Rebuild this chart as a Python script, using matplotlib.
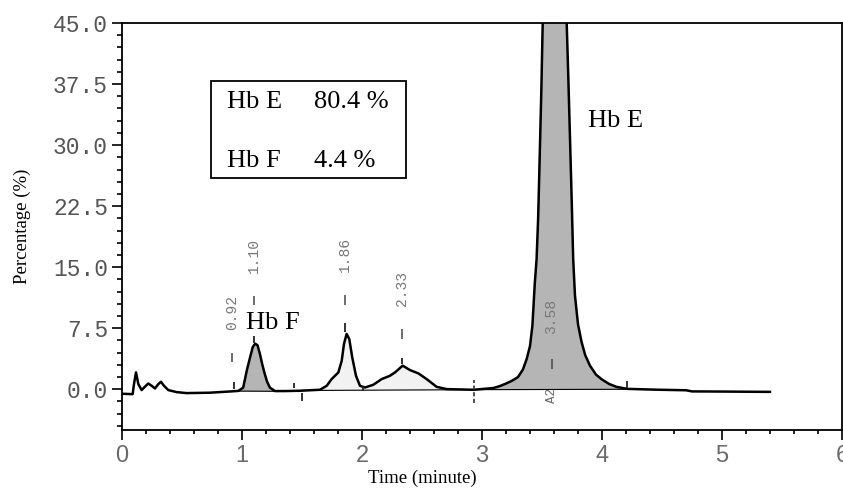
import numpy as np
import matplotlib
matplotlib.use('Agg')
import matplotlib.pyplot as plt
from matplotlib.ticker import MultipleLocator, FormatStrFormatter
from matplotlib.patches import Rectangle

# --- chromatogram trace (time in min, signal in %) ---
TIME = [0.0, 0.089, 0.10, 0.117, 0.136, 0.164, 0.19, 0.219, 0.247, 0.275,
        0.303, 0.325, 0.35, 0.386, 0.456, 0.539, 0.733, 0.90, 0.97, 1.01,
        1.04, 1.067, 1.09, 1.11, 1.13, 1.15, 1.17, 1.19, 1.21, 1.233,
        1.275, 1.35, 1.483, 1.65, 1.706, 1.747, 1.803, 1.831, 1.85, 1.872,
        1.894, 1.919, 1.95, 1.983, 2.025, 2.094, 2.164, 2.233, 2.275, 2.339,
        2.40, 2.47, 2.539, 2.622, 2.706, 2.93, 3.094, 3.15, 3.20, 3.25,
        3.30, 3.34, 3.372, 3.40, 3.42, 3.44, 3.455, 3.468, 3.48, 3.495,
        3.506, 3.53, 3.56, 3.60, 3.64, 3.67, 3.706, 3.72, 3.735, 3.748,
        3.76, 3.775, 3.80, 3.83, 3.86, 3.90, 3.95, 4.00, 4.06, 4.12,
        4.21, 4.45, 4.70, 4.75, 5.0, 5.4]
SIGNAL = [-0.55, -0.6, 0.64, 2.07, 0.64, -0.1, 0.3, 0.71, 0.43, 0.1,
          0.64, 0.92, 0.43, -0.1, -0.35, -0.47, -0.42, -0.27, -0.2, 0.2,
          2.3, 3.9, 5.2, 5.6, 5.4, 4.3, 3.0, 1.87, 0.9, 0.2,
          -0.22, -0.22, -0.18, -0.06, 0.43, 1.25, 2.07, 3.5, 5.57, 6.8,
          6.18, 3.9, 1.66, 0.43, 0.22, 0.55, 1.25, 1.66, 2.07, 2.9,
          2.36, 1.95, 1.25, 0.3, 0.02, -0.06, 0.15, 0.4, 0.7, 1.05,
          1.5, 2.4, 3.7, 5.3, 7.8, 13.0, 16.0, 21.0, 28.0, 37.0,
          45.0, 65.0, 88.0, 100.0, 88.0, 65.0, 45.0, 38.0, 30.0, 23.0,
          16.0, 11.5, 8.0, 5.8, 4.2, 2.9, 1.8, 1.2, 0.65, 0.3,
          0.05, -0.05, -0.12, -0.26, -0.28, -0.32]

# retention time labels
PEAK_T = [0.92, 1.10, 1.86, 2.33, 3.58]
PEAK_LABELS = ['0.92', '1.10', '1.86', '2.33', '3.58']
PEAK_LABEL_Y = [9.4, 16.4, 16.5, 12.4, 8.9]
PEAK_DASH_LO = [3.3, 10.3, 10.3, 6.2, 2.5]
PEAK_DASH_HI = [4.5, 11.5, 11.6, 7.4, 3.75]
APEX_T = [1.10, 1.86, 2.33]
APEX_LO = [5.7, 7.0, 3.1]
APEX_HI = [6.6, 8.1, 3.9]
# integration events
EVENT_T = [0.93, 1.43, 1.50, 2.01, 4.21]
EVENT_LO = [0.0, 0.2, -1.4, -0.2, 0.2]
EVENT_HI = [0.9, 0.8, -0.5, 0.4, 1.0]

RESULTS = [('Hb E', '80.4 %'), ('Hb F', '4.4 %')]

t = np.array(TIME)
s = np.array(SIGNAL)

fig = plt.figure(figsize=(8.43, 4.88), dpi=100)
ax = fig.add_axes([0.1447, 0.1189, 0.8541, 0.834])

serif = ['Liberation Serif', 'DejaVu Serif']
mono = ['Liberation Mono', 'DejaVu Sans Mono']

# fills under peaks
ax.fill_between(t, s, -0.22, where=(t >= 0.97) & (t <= 1.275), color='#b5b5b5', lw=0, zorder=1)
ax.fill_between(t, s, -0.1, where=(t >= 1.65) & (t <= 2.93), color='#f2f2f2', lw=0, zorder=1)
ax.fill_between(t, s, -0.03, where=(t >= 2.93) & (t <= 4.21), color='#b5b5b5', lw=0, zorder=1)

# integration baselines
ax.plot([0.93, 1.30], [-0.22, -0.25], color='black', lw=0.8, zorder=2)
ax.plot([1.48, 2.93, 4.21], [-0.15, -0.05, 0.0], color='black', lw=0.8, zorder=2)

ax.plot(t, s, color='black', lw=1.8, zorder=3)

# markers and retention time labels
ax.vlines(PEAK_T, PEAK_DASH_LO, PEAK_DASH_HI, color='#444444', lw=1.1, zorder=4)
ax.vlines(APEX_T, APEX_LO, APEX_HI, color='#222222', lw=1.3, zorder=4)
ax.vlines(EVENT_T, EVENT_LO, EVENT_HI, color='#222222', lw=1.3, zorder=4)
ax.vlines([2.93], [-1.7], [1.2], color='#333333', lw=1.2, linestyles=(0, (2.5, 1.5)), zorder=4)
for x, y, lab in zip(PEAK_T, PEAK_LABEL_Y, PEAK_LABELS):
    ax.text(x, y, lab, rotation=90, ha='center', va='center', fontsize=10.5,
            family=mono, color='#777777', zorder=5)
ax.text(3.58, -0.8, 'A2', rotation=90, ha='center', va='center', fontsize=9,
        family=mono, color='#666666', zorder=5)

# peak names
ax.text(1.03, 8.2, 'Hb F', fontsize=19, family=serif, va='center', zorder=5)
ax.text(3.886, 32.9, 'Hb E', fontsize=19, family=serif, va='center', zorder=5)

# result box
ax.add_patch(Rectangle((0.742, 25.9), 1.625, 11.96, fill=False, ec='black', lw=1.3, zorder=5))
for (name, pct), y in zip(RESULTS, [35.3, 28.1]):
    ax.text(0.875, y, name, fontsize=19, family=serif, va='center', zorder=6)
    ax.text(1.60, y, pct, fontsize=19, family=serif, va='center', zorder=6)

ax.set_xlim(0, 6)
ax.set_ylim(-5, 45)
ax.xaxis.set_major_locator(MultipleLocator(1))
ax.xaxis.set_minor_locator(MultipleLocator(0.2))
ax.yaxis.set_major_locator(MultipleLocator(7.5))
ax.yaxis.set_minor_locator(MultipleLocator(1.5))
ax.yaxis.set_major_formatter(FormatStrFormatter('%.1f'))
ax.set_yticks([0, 7.5, 15, 22.5, 30, 37.5, 45])

ax.tick_params(axis='y', which='major', length=7, width=1.2, pad=3, labelsize=16.5, labelcolor='#555555')
ax.tick_params(axis='y', which='minor', length=3.6, width=1.2)
ax.tick_params(axis='x', which='major', length=7, width=1.2, pad=3.5, labelsize=17, labelcolor='#6a6a6a')
ax.tick_params(axis='x', which='minor', length=3, width=1.2)
for lab in ax.get_yticklabels():
    lab.set_family(mono)
for lab in ax.get_xticklabels():
    lab.set_family(['Liberation Sans', 'DejaVu Sans'])

for sp in ax.spines.values():
    sp.set_linewidth(1.3)

ax.set_ylabel('Percentage (%)', fontsize=13.5, family=serif)
ax.set_xlabel('Time (minute)', fontsize=13.5, family=serif)
ax.yaxis.set_label_coords(-0.126, 0.5)
ax.xaxis.set_label_coords(2.5 / 6, -0.098)

fig.savefig('out.png', dpi=100)
